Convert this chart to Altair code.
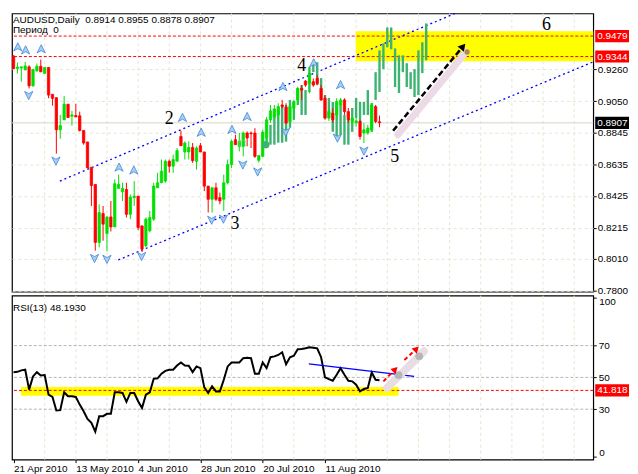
import altair as alt
import pandas as pd

# ---------------- data ----------------
symbol_header = "AUDUSD,Daily\u00a0 0.8914 0.8955 0.8878 0.8907"
period_header = "Период\u00a0 0"
rsi_header = "RSI(13) 48.1930"

opens = [0.9348, 0.9265, 0.9269, 0.9256, 0.9276, 0.9151, 0.9250, 0.9280, 0.9233, 0.9272,
         0.9095, 0.9073, 0.8861, 0.8927, 0.9030, 0.8951, 0.8955, 0.8953, 0.8857, 0.8781,
         0.8614, 0.8501, 0.8119, 0.8309, 0.8178, 0.8287, 0.8221, 0.8475, 0.8453, 0.8468,
         0.8304, 0.8414, 0.8424, 0.8228, 0.8097, 0.8195, 0.8272, 0.8479, 0.8512, 0.8523,
         0.8654, 0.8621, 0.8654, 0.8817, 0.8715, 0.8715, 0.8745, 0.8654, 0.8756, 0.8715,
         0.8490, 0.8403, 0.8479, 0.8414, 0.8403, 0.8512, 0.8632, 0.8796, 0.8752, 0.8752,
         0.8840, 0.8840, 0.8840, 0.8660, 0.8686, 0.8809, 0.8927, 0.8946, 0.8959, 0.9025,
         0.9010, 0.8916, 0.9003, 0.9058, 0.9134, 0.9182, 0.9167, 0.9178, 0.9200, 0.9134,
         0.9069, 0.8938, 0.8971, 0.8959, 0.9025, 0.9058, 0.8981, 0.8916, 0.8907, 0.8916,
         0.8840, 0.8840, 0.8861, 0.9014, 0.8914]
highs = [0.9352, 0.9305, 0.9276, 0.9309, 0.9287, 0.9259, 0.9298, 0.9324, 0.9274, 0.9274,
         0.9095, 0.9073, 0.8959, 0.9084, 0.9030, 0.8986, 0.9032, 0.8981, 0.8857, 0.8781,
         0.8614, 0.8501, 0.8370, 0.8359, 0.8287, 0.8392, 0.8534, 0.8566, 0.8512, 0.8512,
         0.8435, 0.8523, 0.8424, 0.8228, 0.8283, 0.8326, 0.8512, 0.8578, 0.8665, 0.8665,
         0.8665, 0.8697, 0.8741, 0.8855, 0.8785, 0.8785, 0.8774, 0.8752, 0.8774, 0.8715,
         0.8490, 0.8479, 0.8512, 0.8447, 0.8566, 0.8665, 0.8796, 0.8828, 0.8840, 0.8850,
         0.8850, 0.8850, 0.8872, 0.8691, 0.8861, 0.8946, 0.9025, 0.9025, 0.9036, 0.9058,
         0.9036, 0.9025, 0.9058, 0.9145, 0.9156, 0.9189, 0.9276, 0.9200, 0.9221, 0.9156,
         0.9090, 0.9005, 0.9003, 0.9069, 0.9071, 0.9069, 0.9005, 0.8959, 0.8946, 0.8927,
         0.8905, 0.8894, 0.9036, 0.9025, 0.8955]
lows = [0.9261, 0.9233, 0.9178, 0.9256, 0.9134, 0.9145, 0.9243, 0.9243, 0.9233, 0.9069,
        0.9020, 0.8704, 0.8802, 0.8927, 0.8940, 0.8889, 0.8946, 0.8850, 0.8763, 0.8610,
        0.8359, 0.8064, 0.8086, 0.8130, 0.8060, 0.8191, 0.8221, 0.8475, 0.8392, 0.8283,
        0.8272, 0.8359, 0.8200, 0.8056, 0.8086, 0.8185, 0.8261, 0.8479, 0.8512, 0.8512,
        0.8578, 0.8578, 0.8654, 0.8756, 0.8665, 0.8665, 0.8643, 0.8599, 0.8715, 0.8457,
        0.8316, 0.8316, 0.8392, 0.8370, 0.8326, 0.8501, 0.8610, 0.8763, 0.8719, 0.8686,
        0.8752, 0.8741, 0.8676, 0.8645, 0.8686, 0.8776, 0.8907, 0.8933, 0.8927, 0.9003,
        0.8905, 0.8905, 0.8927, 0.9025, 0.9058, 0.9145, 0.9102, 0.9145, 0.9156, 0.9051,
        0.8927, 0.8920, 0.8907, 0.8927, 0.9005, 0.8959, 0.8907, 0.8894, 0.8881, 0.8796,
        0.8774, 0.8828, 0.8848, 0.8905, 0.8878]
closes = [0.9265, 0.9274, 0.9276, 0.9282, 0.9151, 0.9259, 0.9280, 0.9243, 0.9272, 0.9090,
          0.9069, 0.8861, 0.8889, 0.9030, 0.8942, 0.8959, 0.8946, 0.8857, 0.8774, 0.8610,
          0.8494, 0.8119, 0.8316, 0.8239, 0.8287, 0.8221, 0.8506, 0.8501, 0.8475, 0.8304,
          0.8418, 0.8424, 0.8217, 0.8075, 0.8272, 0.8283, 0.8490, 0.8512, 0.8588, 0.8654,
          0.8621, 0.8665, 0.8724, 0.8756, 0.8774, 0.8745, 0.8658, 0.8741, 0.8715, 0.8490,
          0.8403, 0.8479, 0.8403, 0.8392, 0.8512, 0.8632, 0.8785, 0.8763, 0.8785, 0.8840,
          0.8807, 0.8835, 0.8686, 0.8691, 0.8846, 0.8927, 0.8986, 0.8999, 0.9014, 0.9014,
          0.8905, 0.9014, 0.9047, 0.9134, 0.9123, 0.9156, 0.9233, 0.9156, 0.9167, 0.9058,
          0.8938, 0.8981, 0.8927, 0.9047, 0.9058, 0.8981, 0.8927, 0.8938, 0.8920, 0.8817,
          0.8861, 0.8872, 0.9025, 0.8916, 0.8907]

# projected pattern (sea-green bars), starting at bar 65
proj_start = 65
proj_high = [0.8809, 0.8894, 0.8959, 0.8992, 0.9025, 0.9025, 0.9058, 0.9045, 0.9136, 0.9156,
             0.9123, 0.9274, 0.9307, 0.9307, 0.9202, 0.9090, 0.9071, 0.9045, 0.9005, 0.9025,
             0.8959, 0.8927, 0.9005, 0.9071, 0.9045, 0.9045, 0.9123, 0.9038, 0.9241, 0.9385,
             0.9431, 0.9536, 0.9536, 0.9398, 0.9352, 0.9352, 0.9300, 0.9241, 0.9261, 0.9385,
             0.9438, 0.9562]
proj_low = [0.8743, 0.8763, 0.8763, 0.8776, 0.8776, 0.8783, 0.8874, 0.8927, 0.9025, 0.8959,
            0.8959, 0.9110, 0.9241, 0.9156, 0.9090, 0.8940, 0.8959, 0.8848, 0.8809, 0.8828,
            0.8763, 0.8763, 0.8848, 0.8940, 0.8894, 0.8959, 0.8959, 0.8848, 0.9058, 0.9110,
            0.9261, 0.9405, 0.9392, 0.9143, 0.9104, 0.9241, 0.9143, 0.9130, 0.9077, 0.9090,
            0.9235, 0.9320]

rsi = [53.3, 53.5, 54.4, 54.8, 42.3, 50.6, 53.3, 51.2, 51.5, 39.1,
       37.7, 29.2, 29.4, 40.6, 38.1, 38.1, 37.7, 32.9, 28.7, 23.9,
       21.4, 15.8, 25.6, 25.6, 27.1, 27.1, 40.6, 40.6, 40.2, 34.6,
       40.2, 40.2, 35.0, 30.8, 39.1, 40.6, 49.1, 49.4, 52.3, 54.1,
       54.8, 54.8, 57.5, 59.4, 57.5, 57.3, 53.3, 56.9, 55.8, 43.7,
       40.2, 44.4, 41.2, 41.2, 48.5, 56.9, 59.4, 59.4, 59.4, 62.1,
       62.4, 62.1, 52.3, 52.3, 59.4, 55.8, 62.7, 63.2, 64.1, 65.8,
       58.3, 62.7, 63.6, 67.7, 67.9, 68.3, 68.9, 68.7, 68.3, 62.7,
       50.0, 48.9, 47.9, 51.6, 55.8, 51.6, 47.9, 47.5, 45.4, 41.2,
       42.7, 43.3, 53.1, 48.5, 48.193]

date_ticks = [0, 16, 32, 48, 64, 80]
date_labels = ["21 Apr 2010", "13 May 2010", "4 Jun 2010", "28 Jun 2010", "20 Jul 2010", "11 Aug 2010"]
grid_bars = [8, 16, 24, 32, 40, 48, 56, 64, 72, 80, 88, 96, 104, 112, 120, 128, 136, 144]
price_ticks = [0.7800, 0.8010, 0.8215, 0.8425, 0.8635, 0.8845, 0.9050, 0.9260]
rsi_ticks = [0, 30, 50, 70, 100]
rsi_mid_labels = [30, 50, 70]
rsi_edge_text = ["100", "0"]
rsi_edge_pos = [97.6, 2.6]
rsi_levels = [30, 50, 70]

resist_levels = [0.9479, 0.9344]
last_price = 0.8907
rsi_support = 41.8182

zone_main = {"i0": [87.9], "i1": [148.9], "p0": [0.9313], "p1": [0.9510]}
zone_rsi = {"i0": [1.9], "i1": [98.9], "v0": [38.5], "v1": [43.9]}

channel_line = ["upper", "upper", "lower", "lower"]
channel_i = [11.9, 113.4, 26.9, 148.9]
channel_p = [0.8523, 0.9628, 0.8003, 0.9309]

fr_up_i = [1.1, 3.1, 7.1, 27.1, 30.9, 43.4, 48.2, 56.1, 60.0, 69.2, 77.1, 84.0]
fr_up_p = [0.9405, 0.9385, 0.9392, 0.8612, 0.8593, 0.8940, 0.8842, 0.8861, 0.8946, 0.9143, 0.9300, 0.9156]
fr_dn_i = [3.9, 10.9, 20.8, 24.0, 32.9, 50.9, 53.9, 58.9, 62.7, 69.9, 83.2, 90.0]
fr_dn_p = [0.9090, 0.8658, 0.8016, 0.8010, 0.8029, 0.8268, 0.8275, 0.8632, 0.8586, 0.8848, 0.8809, 0.8724]

wave_text = ["2", "3", "4", "5", "6"]
wave_i = [40.0, 56.9, 74.0, 97.9, 136.9]
wave_p = [0.8933, 0.8239, 0.9280, 0.8680, 0.9554]

target_i, target_p = [58.8], [0.8771]
dot_i, dot_p = [64.8], [0.8763]

arrow_i = [97.5, 115.45]
arrow_p = [0.8855, 0.9411]
arrow_head_i, arrow_head_p = [115.45], [0.9411]
shadow_i = [98.7, 116.2]
shadow_p = [0.8828, 0.9374]
brown_i, brown_p = [116.5], [0.9374]

trend_i = [75.85, 102.9]
trend_v = [58.5, 50.6]
rarrow_id = ["a", "a", "b", "b"]
rarrow_i = [95.0, 98.05, 100.4, 103.5]
rarrow_v = [47.5, 55.1, 61.0, 68.0]
rhead_i = [98.05, 103.5]
rhead_v = [55.1, 68.0]
rshadow_i = [95.9, 105.4]
rshadow_v = [43.3, 66.4]
rgray_i = [98.9, 104.2]
rgray_v = [51.4, 63.3]

# ---------------- styling ----------------
FONT = "Liberation Sans"
GRID = "#e6e6cf"
RED = "#ff0000"
GREEN = "#00e000"
W, H1, H2 = 585, 280, 165
LBL = 10

xs = alt.Scale(domain=[-0.4, 148.9], nice=False, zero=False)
ps = alt.Scale(domain=[0.7794, 0.9628], nice=False, zero=False)
rs = alt.Scale(domain=[-1.7, 101.4], nice=False, zero=False)

paxis = alt.Axis(orient="right", values=price_ticks, format=".4f", grid=True, gridColor=GRID,
                 gridDash=[3, 3], domain=False, tickColor="black", tickSize=3, labelPadding=1,
                 labelFont=FONT, labelFontSize=LBL, labelColor="black", labelBaseline="middle",
                 labelOverlap=False, title=None)
mid_expr = " || ".join(f"datum.value == {v}" for v in rsi_mid_labels)
raxis = alt.Axis(orient="right", values=rsi_ticks, labelExpr=f"({mid_expr}) ? datum.label : ''",
                 format="d", grid=False, domain=False,
                 tickColor="black", tickSize=3, labelPadding=2, labelFont=FONT, labelFontSize=LBL,
                 labelColor="black", labelBaseline="middle", labelOverlap=False, title=None)
expr = ""
for t, lab in zip(date_ticks, date_labels):
    expr += f"datum.value == {t} ? '{lab}' : "
expr += "''"
xaxis = alt.Axis(orient="bottom", values=date_ticks, labelExpr=expr, grid=False, domain=False,
                 tickColor="black", tickSize=3, labelAlign="left", labelPadding=1, labelFlush=False,
                 labelOverlap=False, labelFont=FONT, labelFontSize=LBL, labelColor="black", title=None)


def PX(f):
    return alt.X(f, type="quantitative", scale=xs, axis=None, title=None)


def RX(f):
    return alt.X(f, type="quantitative", scale=xs, axis=xaxis, title=None)


def PY(f):
    return alt.Y(f, type="quantitative", scale=ps, axis=paxis, title=None)


def RY(f):
    return alt.Y(f, type="quantitative", scale=rs, axis=raxis, title=None)


# ---------------- tables ----------------
candles = pd.DataFrame({"i": list(range(len(opens))), "o": opens, "h": highs, "l": lows, "c": closes})
candles["col"] = [GREEN if c >= o else RED for o, c in zip(opens, closes)]
proj = pd.DataFrame({"i": list(range(proj_start, proj_start + len(proj_high))), "h": proj_high, "l": proj_low})
grid_df = pd.DataFrame({"i": grid_bars})

# ---------------- main panel ----------------
m_grid = alt.Chart(grid_df).mark_rule(color=GRID, strokeDash=[3, 3]).encode(x=PX("i"))
m_zone = alt.Chart(pd.DataFrame(zone_main)).mark_rect(color="#ffff00").encode(
    x=PX("i0"), x2="i1", y=PY("p1"), y2="p0")
m_bid = alt.Chart(pd.DataFrame({"p": [last_price]})).mark_rule(color="#d6d6c6").encode(y=PY("p"))
m_levels = alt.Chart(pd.DataFrame({"p": resist_levels})).mark_rule(
    color=RED, strokeDash=[3, 2]).encode(y=PY("p"))
m_channel = alt.Chart(pd.DataFrame({"line": channel_line, "i": channel_i, "p": channel_p})).mark_line(
    color="#0000ff", strokeDash=[2, 3], strokeWidth=1.3).encode(
    x=PX("i"), y=PY("p"), detail="line:N")
m_proj = alt.Chart(proj).mark_rule(color="#3cb371", strokeWidth=2.4).encode(
    x=PX("i"), y=PY("l"), y2="h")
m_wick = alt.Chart(candles).mark_rule(strokeWidth=1).encode(
    x=PX("i"), y=PY("l"), y2="h", color=alt.Color("col:N", scale=None))
m_body = alt.Chart(candles).transform_calculate(
    x0="datum.i - 0.3", x1="datum.i + 0.3", top="max(datum.o, datum.c)", bot="min(datum.o, datum.c)"
).mark_rect(strokeWidth=0.8).encode(
    x=PX("x0:Q"), x2="x1:Q", y=PY("top:Q"), y2="bot:Q",
    color=alt.Color("col:N", scale=None), stroke=alt.Stroke("col:N", scale=None))

UP = "M0,-1L0.9,0.8L0,0.3L-0.9,0.8Z"
DN = "M0,1L0.9,-0.8L0,-0.3L-0.9,-0.8Z"
m_fup = alt.Chart(pd.DataFrame({"i": fr_up_i, "p": fr_up_p})).mark_point(
    shape=UP, filled=True, size=85, color="#a9cff5", stroke="#3f86d9", strokeWidth=0.8,
    opacity=1).encode(x=PX("i"), y=PY("p"))
m_fdn = alt.Chart(pd.DataFrame({"i": fr_dn_i, "p": fr_dn_p})).mark_point(
    shape=DN, filled=True, size=85, color="#a9cff5", stroke="#3f86d9", strokeWidth=0.8,
    opacity=1).encode(x=PX("i"), y=PY("p"))
m_target = alt.Chart(pd.DataFrame({"i": target_i, "p": target_p})).mark_point(
    shape="circle", size=55, color="#88d0a0", strokeWidth=1).encode(x=PX("i"), y=PY("p"))
m_dot = alt.Chart(pd.DataFrame({"i": dot_i, "p": dot_p})).mark_circle(
    size=55, color="#3cb371", opacity=1).encode(x=PX("i"), y=PY("p"))

m_shadow = alt.Chart(pd.DataFrame({"i": shadow_i, "p": shadow_p})).mark_line(
    color="#ecdbe7", strokeWidth=7, strokeCap="round").encode(x=PX("i"), y=PY("p"))
m_arrow = alt.Chart(pd.DataFrame({"i": arrow_i, "p": arrow_p})).mark_line(
    color="black", strokeDash=[6, 3], strokeWidth=2.5).encode(x=PX("i"), y=PY("p"))
m_head = alt.Chart(pd.DataFrame({"i": arrow_head_i, "p": arrow_head_p})).mark_point(
    shape="triangle-up", angle=40, size=70, filled=True, color="black", opacity=1).encode(
    x=PX("i"), y=PY("p"))
m_brown = alt.Chart(pd.DataFrame({"i": brown_i, "p": brown_p})).mark_circle(
    size=28, color="#b5874f", opacity=1).encode(x=PX("i"), y=PY("p"))

m_waves = alt.Chart(pd.DataFrame({"t": wave_text, "i": wave_i, "p": wave_p})).mark_text(
    font="Liberation Serif", fontSize=18, color="black", baseline="middle").encode(
    x=PX("i"), y=PY("p"), text="t:N")

m_head1 = alt.Chart(pd.DataFrame({"t": [symbol_header]})).mark_text(
    align="left", baseline="alphabetic", font=FONT, fontSize=10, color="black").encode(
    x=alt.value(1), y=alt.value(10), text="t:N")
m_head2 = alt.Chart(pd.DataFrame({"t": [period_header]})).mark_text(
    align="left", baseline="alphabetic", font=FONT, fontSize=10, color="black").encode(
    x=alt.value(1), y=alt.value(20), text="t:N")

boxes = pd.DataFrame({"p": [resist_levels[0], resist_levels[1], last_price],
                      "fill": [RED, RED, "#000000"],
                      "txt": [f"{resist_levels[0]:.4f}", f"{resist_levels[1]:.4f}", f"{last_price:.4f}"]})
m_box = alt.Chart(boxes).transform_calculate(top="datum.p + 0.0040", bot="datum.p - 0.0040").mark_rect().encode(
    x=alt.value(W + 2), x2=alt.value(W + 36), y=PY("top:Q"), y2="bot:Q", color=alt.Color("fill:N", scale=None))
m_boxtxt = alt.Chart(boxes).mark_text(align="left", baseline="middle", font=FONT, fontSize=LBL,
                                      color="white").encode(x=alt.value(W + 4), y=PY("p"), text="txt:N")

main = alt.layer(m_grid, m_zone, m_bid, m_levels, m_channel, m_proj, m_wick, m_body,
                 m_fup, m_fdn, m_target, m_dot, m_shadow, m_arrow, m_head, m_brown, m_waves,
                 m_head1, m_head2, m_box, m_boxtxt).properties(width=W, height=H1)

# ---------------- RSI panel ----------------
r_grid = alt.Chart(grid_df).mark_rule(color=GRID, strokeDash=[3, 3]).encode(x=RX("i"))
r_zone = alt.Chart(pd.DataFrame(zone_rsi)).mark_rect(color="#ffff00").encode(
    x=RX("i0"), x2="i1", y=RY("v1"), y2="v0")
r_levels = alt.Chart(pd.DataFrame({"v": rsi_levels})).mark_rule(
    color="#b4b4b4", strokeDash=[3, 2]).encode(y=RY("v"))
r_sup = alt.Chart(pd.DataFrame({"v": [rsi_support]})).mark_rule(
    color=RED, strokeDash=[3, 2]).encode(y=RY("v"))
r_line = alt.Chart(pd.DataFrame({"i": list(range(len(rsi))), "v": rsi})).mark_line(
    color="black", strokeWidth=2).encode(x=RX("i"), y=RY("v"))
r_trend = alt.Chart(pd.DataFrame({"i": trend_i, "v": trend_v})).mark_line(
    color="#0000ff", strokeWidth=1.3).encode(x=RX("i"), y=RY("v"))
r_shadow = alt.Chart(pd.DataFrame({"i": rshadow_i, "v": rshadow_v})).mark_line(
    color="#e9dde4", strokeWidth=8, strokeCap="round").encode(x=RX("i"), y=RY("v"))
r_gray = alt.Chart(pd.DataFrame({"i": rgray_i, "v": rgray_v})).mark_circle(
    size=60, color="#b0b0b0", opacity=0.9).encode(x=RX("i"), y=RY("v"))
r_arrows = alt.Chart(pd.DataFrame({"id": rarrow_id, "i": rarrow_i, "v": rarrow_v})).mark_line(
    color=RED, strokeDash=[4, 3], strokeWidth=2).encode(x=RX("i"), y=RY("v"), detail="id:N")
r_heads = alt.Chart(pd.DataFrame({"i": rhead_i, "v": rhead_v})).mark_point(
    shape="triangle-up", angle=45, size=55, filled=True, color=RED, opacity=1).encode(
    x=RX("i"), y=RY("v"))
r_title = alt.Chart(pd.DataFrame({"t": [rsi_header]})).mark_text(
    align="left", baseline="alphabetic", font=FONT, fontSize=10, color="black").encode(
    x=alt.value(1), y=alt.value(15), text="t:N")
r_edge = alt.Chart(pd.DataFrame({"t": rsi_edge_text, "v": rsi_edge_pos})).mark_text(
    align="left", baseline="middle", font=FONT, fontSize=LBL, color="black").encode(
    x=alt.value(W + 6), y=RY("v"), text="t:N")
sup_box = pd.DataFrame({"v": [rsi_support], "txt": [f"{rsi_support:.4f}"]})
r_box = alt.Chart(sup_box).transform_calculate(top="datum.v + 3.8", bot="datum.v - 3.8").mark_rect(
    color=RED).encode(x=alt.value(W + 2), x2=alt.value(W + 36), y=RY("top:Q"), y2="bot:Q")
r_boxtxt = alt.Chart(sup_box).mark_text(align="left", baseline="middle", font=FONT, fontSize=LBL,
                                        color="white", limit=32, ellipsis="\u200b").encode(
    x=alt.value(W + 4), y=RY("v"), text="txt:N")

rsi_panel = alt.layer(r_grid, r_zone, r_levels, r_sup, r_line, r_trend, r_shadow, r_gray,
                      r_arrows, r_heads, r_title, r_edge, r_box, r_boxtxt).properties(width=W, height=H2)

chart = alt.vconcat(main, rsi_panel, spacing=4, bounds="flush").properties(
    padding={"left": 0, "top": 0, "right": 0, "bottom": 0}
).configure(
    background="white", padding={"left": 0, "top": 0, "right": 0, "bottom": 0},
    view=alt.ViewConfig(stroke="black", strokeWidth=1.2)
)

chart.save("out.html", embed_options={"renderer": "svg", "actions": False})
